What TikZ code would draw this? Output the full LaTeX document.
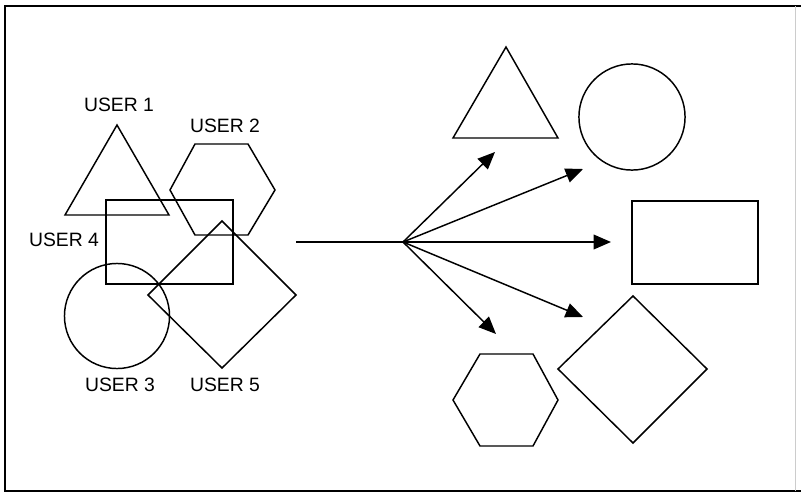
\documentclass[tikz,border=0pt]{standalone}
\usepackage{fontspec}
\setmainfont{Liberation Sans}
\usetikzlibrary{arrows.meta}
\begin{document}
\begin{tikzpicture}[x=0.75pt,y=-0.75pt,
  shp/.style={draw,line width=1.1pt,line join=miter},
  lbl/.style={font=\fontsize{14.5}{16}\selectfont,inner sep=0pt},
  arr/.style={line width=1.1pt,-{Triangle[length=13pt,width=11pt]}},
  frame/.style={draw,line width=1.3pt}]
\useasboundingbox (0,0) rectangle (801,493);
% frame
\draw[frame] (801,6) -- (5,6) -- (5,491) -- (801,491);
\draw[gray!40,line width=0.6pt] (795,6) -- (795,491);
% left group
\draw[shp] (117,125) -- (65,215) -- (169,215) -- cycle;
\draw[shp] (195,144) -- (248,144) -- (275,190) -- (248,235) -- (195,235) -- (170,190) -- cycle;
\draw[shp] (106,200) rectangle (233,284);
\draw[shp] (222,221) -- (296,295) -- (222,368) -- (148,295) -- cycle;
\draw[shp] (117,316) circle[radius=39.4pt];
\node[lbl] (u1) at (119,105) {USER 1};
\node[lbl] (u2) at (225,126) {USER 2};
\node[lbl] (u4) at (64,240) {USER 4};
\node[lbl] (u3) at (120,385) {USER 3};
\node[lbl] (u5) at (225,385) {USER 5};
% right group
\draw[shp] (506,47) -- (453,138) -- (558,138) -- cycle;
\draw[shp] (632,117) circle[radius=39.8pt];
\draw[shp] (632,201) rectangle (758,284);
\draw[shp] (633,296) -- (707,369) -- (633,443) -- (558,369) -- cycle;
\draw[shp] (480,354) -- (533,354) -- (558,400) -- (533,446) -- (480,446) -- (453,400) -- cycle;
% connectors
\coordinate (start) at (296,242);
\coordinate (hub) at (403,242);
\coordinate (t1) at (495,152);
\coordinate (t2) at (583,169);
\coordinate (t3) at (611,242);
\coordinate (t4) at (583,317);
\coordinate (t5) at (496,334);
\draw[line width=1.1pt] (start) -- (hub);
\foreach \t in {t1,t2,t3,t4,t5} \draw[arr] (hub) -- (\t);
\end{tikzpicture}
\end{document}
